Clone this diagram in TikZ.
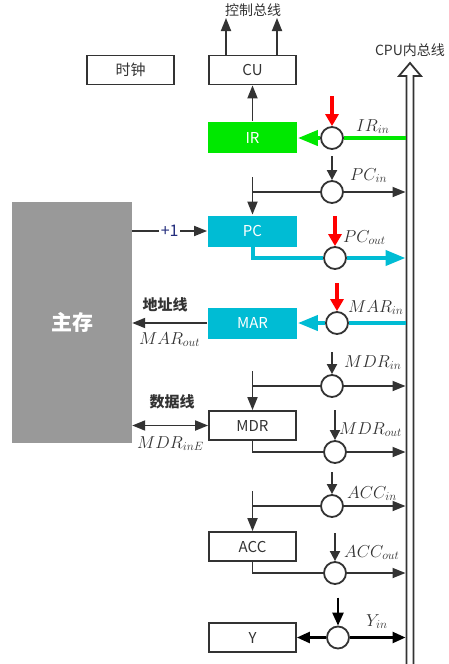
\documentclass[tikz,border=0pt]{standalone}
\usepackage{fontspec}
\setmainfont{Noto Sans CJK SC}
\usetikzlibrary{arrows.meta,positioning}
\definecolor{irgreen}{RGB}{0,232,0}
\definecolor{regcyan}{RGB}{0,188,212}
\definecolor{memgray}{RGB}{153,153,153}
\definecolor{ink}{RGB}{51,51,51}
\definecolor{incblue}{RGB}{35,45,125}
\tikzset{
  regbox/.style={draw=ink, line width=1.8pt, minimum width=87pt, minimum height=29pt, inner sep=0pt, text=ink, font=\fontsize{15}{17}\selectfont},
  colbox/.style={regbox, draw=none, fill=#1, minimum width=89pt, minimum height=31pt, text=white},
  gate/.style={circle, draw=ink, line width=1.8pt, fill=white, minimum size=22pt, inner sep=0pt},
  siglabel/.style={anchor=base west, inner sep=0pt, text=ink, font=\fontsize{17}{20}\selectfont},
  txt/.style={inner sep=0pt, text=ink, font=\fontsize{14}{16}\selectfont},
  wire/.style={line width=1.8pt, ink},
  darrow/.style={wire, -{Triangle[length=13pt,width=10pt]}},
  ctlarrow/.style={wire, -{Triangle[length=10pt,width=10pt]}},
  redarrow/.style={line width=4.5pt, red, -{Triangle[length=12pt,width=13pt]}},
  thickline/.style={line width=4pt, #1},
  thickarrow/.style={line width=4pt, #1, -{Triangle[length=20pt,width=15pt]}},
  yarrow/.style={line width=2.5pt, black, -{Triangle[length=13pt,width=11pt]}},
}
\begin{document}
\begin{tikzpicture}[x=1pt, y=-1pt]
\useasboundingbox (0,0) rectangle (449,664);
% registers and memory
\node[regbox] (clk) at (130.5,70) {时钟};
\node[regbox] (cu) at (252.5,70) {CU};
\node[colbox=irgreen] (ir) at (252.5,137.5) {IR};
\node[colbox=regcyan] (pc) at (252.5,231) {PC};
\node[colbox=regcyan] (mar) at (252.5,323) {MAR};
\node[regbox] (mdr) at (252.5,425.5) {MDR};
\node[regbox] (acc) at (252.5,546.5) {ACC};
\node[regbox] (y) at (252.5,637.5) {Y};
\node[fill=memgray, minimum width=120pt, minimum height=241pt, text=white, font=\fontsize{21}{23}\selectfont\bfseries] (mem) at (72,322.5) {主存};
% CPU internal bus
\draw[wire, line join=miter] (406.5,664) -- (406.5,76) -- (399,76) -- (410,63) -- (421,76) -- (413.5,76) -- (413.5,664);
\node[txt] (busname) at (410,50) {CPU内总线};
\coordinate (bus) at (405.5,0);
% control bus
\node[txt] (cbus) at (253,10) {控制总线};
\coordinate (cb1) at (226,18);
\coordinate (cb2) at (277,18);
\draw[darrow] (cu.north -| cb1) -- (cb1);
\draw[darrow] (cu.north -| cb2) -- (cb2);
\draw[darrow] (ir) -- (cu);
% gates
\node[gate] (gir) at (332,138) {};
\node[gate] (gpci) at (332,192) {};
\node[gate] (gpco) at (335,258) {};
\node[gate] (gmar) at (337,323) {};
\node[gate] (gmdri) at (332,386) {};
\node[gate] (gmdro) at (335,452) {};
\node[gate] (gacci) at (332,506) {};
\node[gate] (gacco) at (335,573) {};
\node[gate] (gy) at (338,637.5) {};
% control signals
\coordinate[above=30pt of gir.north] (cir);
\coordinate[above=24pt of gpci.north] (cpci);
\coordinate[above=30pt of gpco.north] (cpco);
\coordinate[above=28pt of gmar.north] (cmar);
\coordinate[above=22pt of gmdri.north] (cmdri);
\coordinate[above=30pt of gmdro.north] (cmdro);
\coordinate[above=22pt of gacci.north] (cacci);
\coordinate[above=28pt of gacco.north] (cacco);
\coordinate[above=28pt of gy.north] (cy);
\draw[redarrow] (cir) -- (gir);
\draw[ctlarrow] (cpci) -- (gpci);
\draw[redarrow] (cpco) -- (gpco);
\draw[redarrow] (cmar) -- (gmar);
\draw[ctlarrow] (cmdri) -- (gmdri);
\draw[ctlarrow] (cmdro) -- (gmdro);
\draw[ctlarrow] (cacci) -- (gacci);
\draw[ctlarrow] (cacco) -- (gacco);
\draw[yarrow] (cy) -- (gy);
\node[siglabel] (lir) at (356,131) {$IR_{in}$};
\node[siglabel] (lpci) at (350,180) {$PC_{in}$};
\node[siglabel] (lpco) at (343,242) {$PC_{out}$};
\node[siglabel] (lmar) at (348,312) {$MAR_{in}$};
\node[siglabel] (lmdri) at (344,367) {$MDR_{in}$};
\node[siglabel] (lmdro) at (339,434) {$MDR_{out}$};
\node[siglabel] (lacci) at (347,498) {$ACC_{in}$};
\node[siglabel] (lacco) at (344,557) {$ACC_{out}$};
\node[siglabel] (lyin) at (366,626) {$Y_{in}$};
% IR
\draw[thickline=irgreen] (gir -| bus) -- (gir);
\draw[thickarrow=irgreen] (gir) -- (gir -| ir.east);
% PC
\coordinate (pcin) at (252.5,177);
\draw[darrow] (pcin) -- (pc);
\draw[wire] (pcin |- gpci) -- (gpci);
\draw[darrow] (gpci) -- (gpci -| bus);
\draw[thickline=regcyan] (pc.south) |- (gpco);
\draw[thickarrow=regcyan] (gpco) -- (gpco -| bus);
\draw[darrow] (mem.east |- pc) -- node[fill=white, inner sep=1.5pt, text=incblue, font=\fontsize{16}{18}\selectfont] (inc) {+1} (pc);
% MAR
\draw[thickline=regcyan] (gmar -| bus) -- (gmar);
\draw[thickarrow=regcyan] (gmar) -- (gmar -| mar.east);
\draw[darrow] (mar.west) -- (mar.west -| mem.east);
\node[txt, font=\fontsize{15}{17}\selectfont\bfseries] (addr) at (165,305) {地址线};
\node[siglabel] (lmaro) at (139,344) {$MAR_{out}$};
% MDR
\coordinate (mdrin) at (252.5,371);
\draw[darrow] (mdrin) -- (mdr);
\draw[wire] (mdrin |- gmdri) -- (gmdri);
\draw[darrow] (gmdri) -- (gmdri -| bus);
\draw[wire] (mdr.south) |- (gmdro);
\draw[darrow] (gmdro) -- (gmdro -| bus);
\draw[wire, {Triangle[length=13pt,width=10pt]}-{Triangle[length=13pt,width=10pt]}] (mdr.west) -- (mdr.west -| mem.east);
\node[txt, font=\fontsize{15}{17}\selectfont\bfseries] (data) at (172,402) {数据线};
\node[siglabel] (lmdre) at (137,448) {$MDR_{inE}$};
% ACC
\coordinate (accin) at (252.5,491);
\draw[darrow] (accin) -- (acc);
\draw[wire] (accin |- gacci) -- (gacci);
\draw[darrow] (gacci) -- (gacci -| bus);
\draw[wire] (acc.south) |- (gacco);
\draw[darrow] (gacco) -- (gacco -| bus);
% Y
\draw[yarrow] (gy) -- (gy -| y.east);
\draw[yarrow] (gy) -- (gy -| bus);
\end{tikzpicture}
\end{document}
